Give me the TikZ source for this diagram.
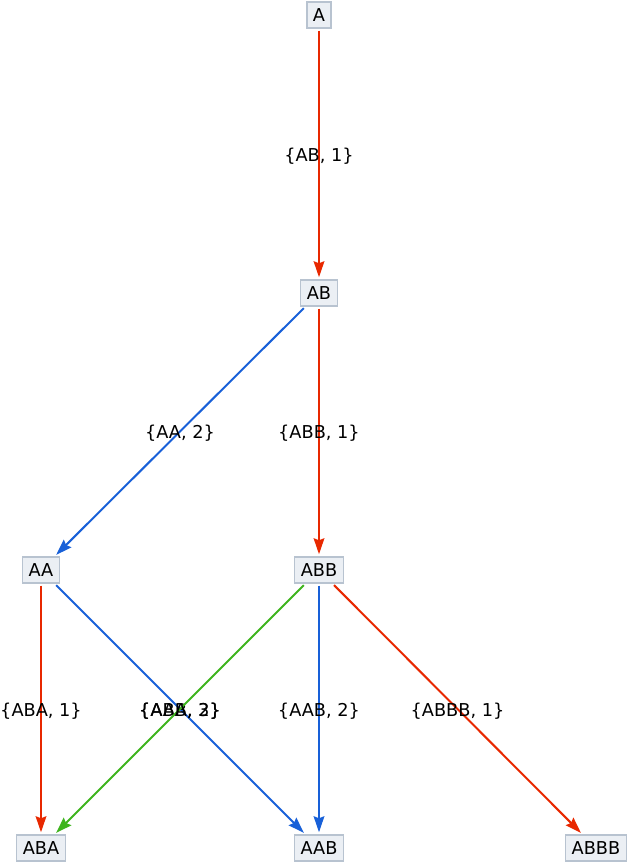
\documentclass[tikz,border=0pt]{standalone}
\usepackage{fontspec}
\setmainfont{DejaVu Sans}
\usepackage{tikz}
\usetikzlibrary{arrows.meta}
\definecolor{nodefill}{RGB}{235,239,244}
\definecolor{nodeline}{RGB}{184,195,208}
\definecolor{stepred}{RGB}{232,40,0}
\definecolor{stepblue}{RGB}{24,96,216}
\definecolor{stepgreen}{RGB}{62,180,30}
\tikzstyle{state}=[rectangle,draw=nodeline,fill=nodefill,line width=1.1pt,minimum height=19.5pt,inner xsep=4.6pt,inner ysep=2pt,font=\fontsize{13.3}{15}\selectfont]
\tikzstyle{edge}=[line width=1.5pt,-{Stealth[length=12pt,width=8pt,inset=1.5pt]},shorten >=1.5pt,shorten <=1.5pt]
\tikzstyle{lab}=[font=\fontsize{13.3}{15}\selectfont,inner sep=0pt,yshift=-1.5pt]

\begin{document}
\begin{tikzpicture}[x=0.75pt,y=-0.75pt]
			\useasboundingbox (0,0) rectangle (630,864);
			
			\node [state] (sA) at (319,15) {A};
			\node [state] (sAB) at (319,293) {AB};
			\node [state] (sAA) at (41,570) {AA};
			\node [state] (sABB) at (319,570) {ABB};
			\node [state] (sABA) at (41,848) {ABA};
			\node [state] (sAAB) at (319,848) {AAB};
			\node [state] (sABBB) at (596,848) {ABBB};
			
			\draw[edge,stepred] (sA) -- node [lab,text=black] {\{AB, 1\}} (sAB);
			
			\draw[edge,stepblue] (sAB) -- node [lab,text=black] {\{AA, 2\}} (sAA);
			\draw[edge,stepred] (sAB) -- node [lab,text=black] {\{ABB, 1\}} (sABB);
			
			\draw[edge,stepred] (sAA) -- node [lab,text=black] {\{ABA, 1\}} (sABA);
			\draw[edge,stepblue] (sAA) -- node [lab,text=black] {\{AAB, 2\}} (sAAB);
			
			\draw[edge,stepgreen] (sABB) -- node [lab,text=black] {\{ABA, 3\}} (sABA);
			\draw[edge,stepblue] (sABB) -- node [lab,text=black] {\{AAB, 2\}} (sAAB);
			\draw[edge,stepred] (sABB) -- node [lab,text=black] {\{ABBB, 1\}} (sABBB);
\end{tikzpicture}
\end{document}
